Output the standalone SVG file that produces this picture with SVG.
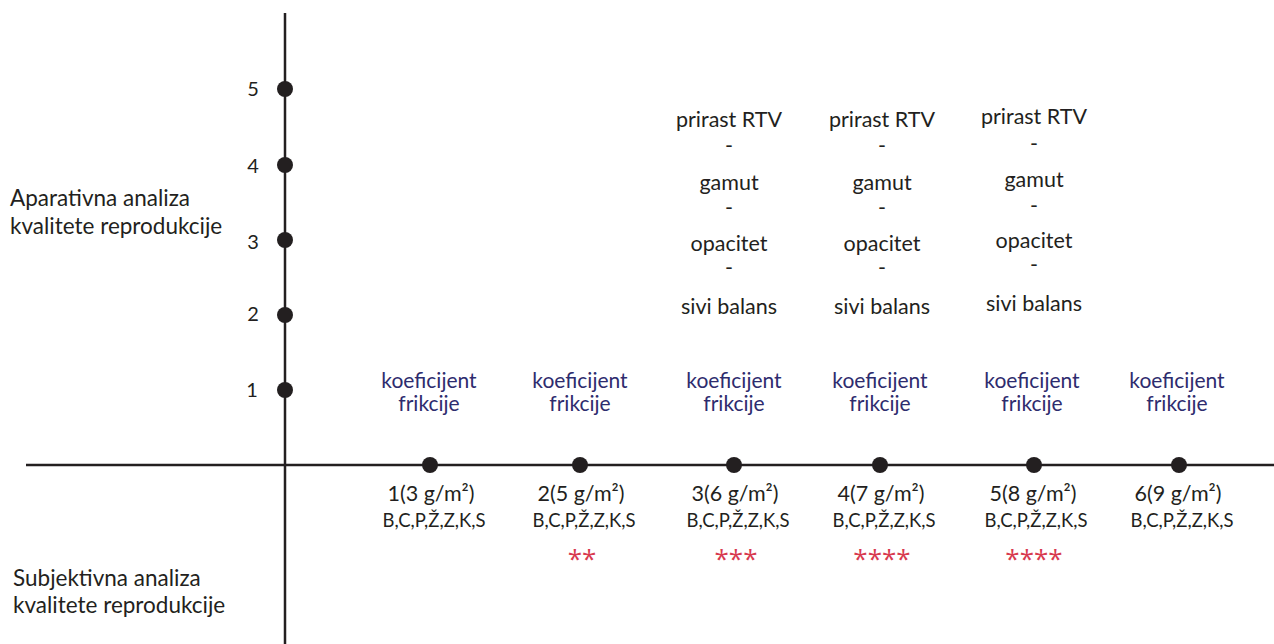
<svg xmlns="http://www.w3.org/2000/svg" width="1274" height="644" viewBox="0 0 1274 644">
<style>
text{font-family:Lato,"Open Sans",sans-serif;fill:#231f20;text-anchor:middle}
.lbl{font-size:22.5px;text-anchor:start}
.num{font-size:20px}
.blue{fill:#2e2c6e;font-size:21px}
.up{font-size:21.5px}
.g{font-size:21.5px}
.sub{font-size:18.5px}
.star{font-family:"Open Sans",sans-serif;fill:#d83a4f;font-size:26px}
.axis{stroke:#231f20;stroke-width:2.5;fill:none}
.dot{fill:#231f20}
</style>
<rect width="1274" height="644" fill="#fff"/>
<g id="connectors">
<line class="axis" x1="285" y1="13" x2="285" y2="644"/>
<line class="axis" x1="26" y1="465" x2="1274" y2="465"/>
</g>
<g id="yaxis-labels">
<text class="lbl" x="10" y="206">Aparativna analiza</text>
<text class="lbl" x="10" y="234">kvalitete reprodukcije</text>
<text class="lbl" x="13" y="586">Subjektivna analiza</text>
<text class="lbl" x="13" y="613">kvalitete reprodukcije</text>
</g>
<g id="y5"><circle class="dot" cx="285" cy="89" r="8"/><text class="num" x="253" y="96">5</text></g>
<g id="y4"><circle class="dot" cx="285" cy="165" r="8"/><text class="num" x="253" y="173">4</text></g>
<g id="y3"><circle class="dot" cx="285" cy="240" r="8"/><text class="num" x="253" y="249">3</text></g>
<g id="y2"><circle class="dot" cx="285" cy="315" r="8"/><text class="num" x="253" y="321">2</text></g>
<g id="y1"><circle class="dot" cx="285" cy="390" r="8"/><text class="num" x="252" y="397">1</text></g>

<g id="x1">
<circle class="dot" cx="430" cy="465" r="8"/>
<text class="blue" x="429" y="388">koeficijent</text><text class="blue" x="429" y="411">frikcije</text>
<text class="g" x="431" y="501">1(3 g/m²)</text>
<text class="sub" x="434" y="527">B,C,P,Ž,Z,K,S</text>
</g>
<g id="x2">
<circle class="dot" cx="580" cy="465" r="8"/>
<text class="blue" x="580" y="388">koeficijent</text><text class="blue" x="580" y="411">frikcije</text>
<text class="g" x="581" y="501">2(5 g/m²)</text>
<text class="sub" x="584" y="527">B,C,P,Ž,Z,K,S</text>
<text class="star" x="582" y="568">**</text>
</g>
<g id="x3">
<circle class="dot" cx="734" cy="465" r="8"/>
<text class="up" x="729" y="127">prirast RTV</text>
<text class="up" x="729" y="153">-</text>
<text class="up" x="729" y="190">gamut</text>
<text class="up" x="729" y="215">-</text>
<text class="up" x="729" y="251">opacitet</text>
<text class="up" x="729" y="275">-</text>
<text class="up" x="729" y="314">sivi balans</text>
<text class="blue" x="734" y="388">koeficijent</text><text class="blue" x="734" y="411">frikcije</text>
<text class="g" x="735" y="501">3(6 g/m²)</text>
<text class="sub" x="738" y="527">B,C,P,Ž,Z,K,S</text>
<text class="star" x="736" y="568">***</text>
</g>
<g id="x4">
<circle class="dot" cx="880" cy="465" r="8"/>
<text class="up" x="882" y="127">prirast RTV</text>
<text class="up" x="882" y="153">-</text>
<text class="up" x="882" y="190">gamut</text>
<text class="up" x="882" y="215">-</text>
<text class="up" x="882" y="251">opacitet</text>
<text class="up" x="882" y="275">-</text>
<text class="up" x="882" y="314">sivi balans</text>
<text class="blue" x="880" y="388">koeficijent</text><text class="blue" x="880" y="411">frikcije</text>
<text class="g" x="881" y="501">4(7 g/m²)</text>
<text class="sub" x="884" y="527">B,C,P,Ž,Z,K,S</text>
<text class="star" x="882" y="568">****</text>
</g>
<g id="x5">
<circle class="dot" cx="1034" cy="465" r="8"/>
<text class="up" x="1034" y="124">prirast RTV</text>
<text class="up" x="1034" y="151">-</text>
<text class="up" x="1034" y="187">gamut</text>
<text class="up" x="1034" y="213">-</text>
<text class="up" x="1034" y="248">opacitet</text>
<text class="up" x="1034" y="272">-</text>
<text class="up" x="1034" y="311">sivi balans</text>
<text class="blue" x="1032" y="388">koeficijent</text><text class="blue" x="1032" y="411">frikcije</text>
<text class="g" x="1033" y="501">5(8 g/m²)</text>
<text class="sub" x="1036" y="527">B,C,P,Ž,Z,K,S</text>
<text class="star" x="1034" y="568">****</text>
</g>
<g id="x6">
<circle class="dot" cx="1179" cy="465" r="8"/>
<text class="blue" x="1177" y="388">koeficijent</text><text class="blue" x="1177" y="411">frikcije</text>
<text class="g" x="1178" y="501">6(9 g/m²)</text>
<text class="sub" x="1182" y="527">B,C,P,Ž,Z,K,S</text>
</g>
</svg>
